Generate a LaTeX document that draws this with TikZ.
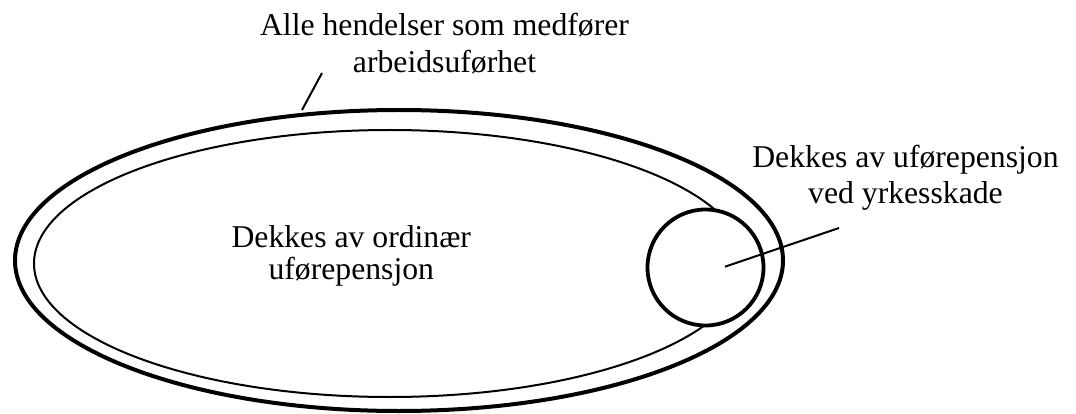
\documentclass[tikz,border=0pt]{standalone}
\usepackage{fontspec}
\setmainfont{Liberation Serif}
\usetikzlibrary{shapes.geometric}
\begin{document}
\begin{tikzpicture}[x=1pt,y=-1pt,
  bigset/.style={draw=black, line width=4pt, ellipse, inner sep=0pt},
  subset/.style={draw=black, line width=2pt, ellipse, inner sep=0pt},
  yrke/.style={draw=black, fill=white, line width=3.8pt, circle, inner sep=0pt},
  lead/.style={draw=black, line width=2pt},
  lbl/.style={anchor=base, inner sep=0pt}]
\useasboundingbox (0,0) rectangle (1076,414);
\node[bigset, minimum width=768pt, minimum height=301pt] (outer) at (399,260.5) {};
\node[subset, minimum width=711pt, minimum height=267pt] (inner) at (389.5,263.5) {};
\node[yrke, minimum size=116pt] (circ) at (705.5,267.5) {};
\node[lbl] (ttop) at (444.5,36) {\fontsize{31.7}{37}\selectfont\begin{tabular}[t]{@{}c@{}}Alle hendelser som medfører\\ arbeidsuførhet\end{tabular}};
\node[lbl] (tmid) at (351.3,247.5) {\fontsize{31.7}{32}\selectfont\begin{tabular}[t]{@{}c@{}}Dekkes av ordinær\\ uførepensjon\end{tabular}};
\node[lbl] (tright) at (905.5,167.7) {\fontsize{31.7}{36.3}\selectfont\begin{tabular}[t]{@{}c@{}}Dekkes av uførepensjon\\ ved yrkesskade\end{tabular}};
\coordinate (p1) at (302,110);
\coordinate (p2) at (322,73);
\coordinate (q1) at (725,266.7);
\coordinate (q2) at (839,228);
\draw[lead] (p1) -- (p2);
\draw[lead] (q1) -- (q2);
\end{tikzpicture}
\end{document}
